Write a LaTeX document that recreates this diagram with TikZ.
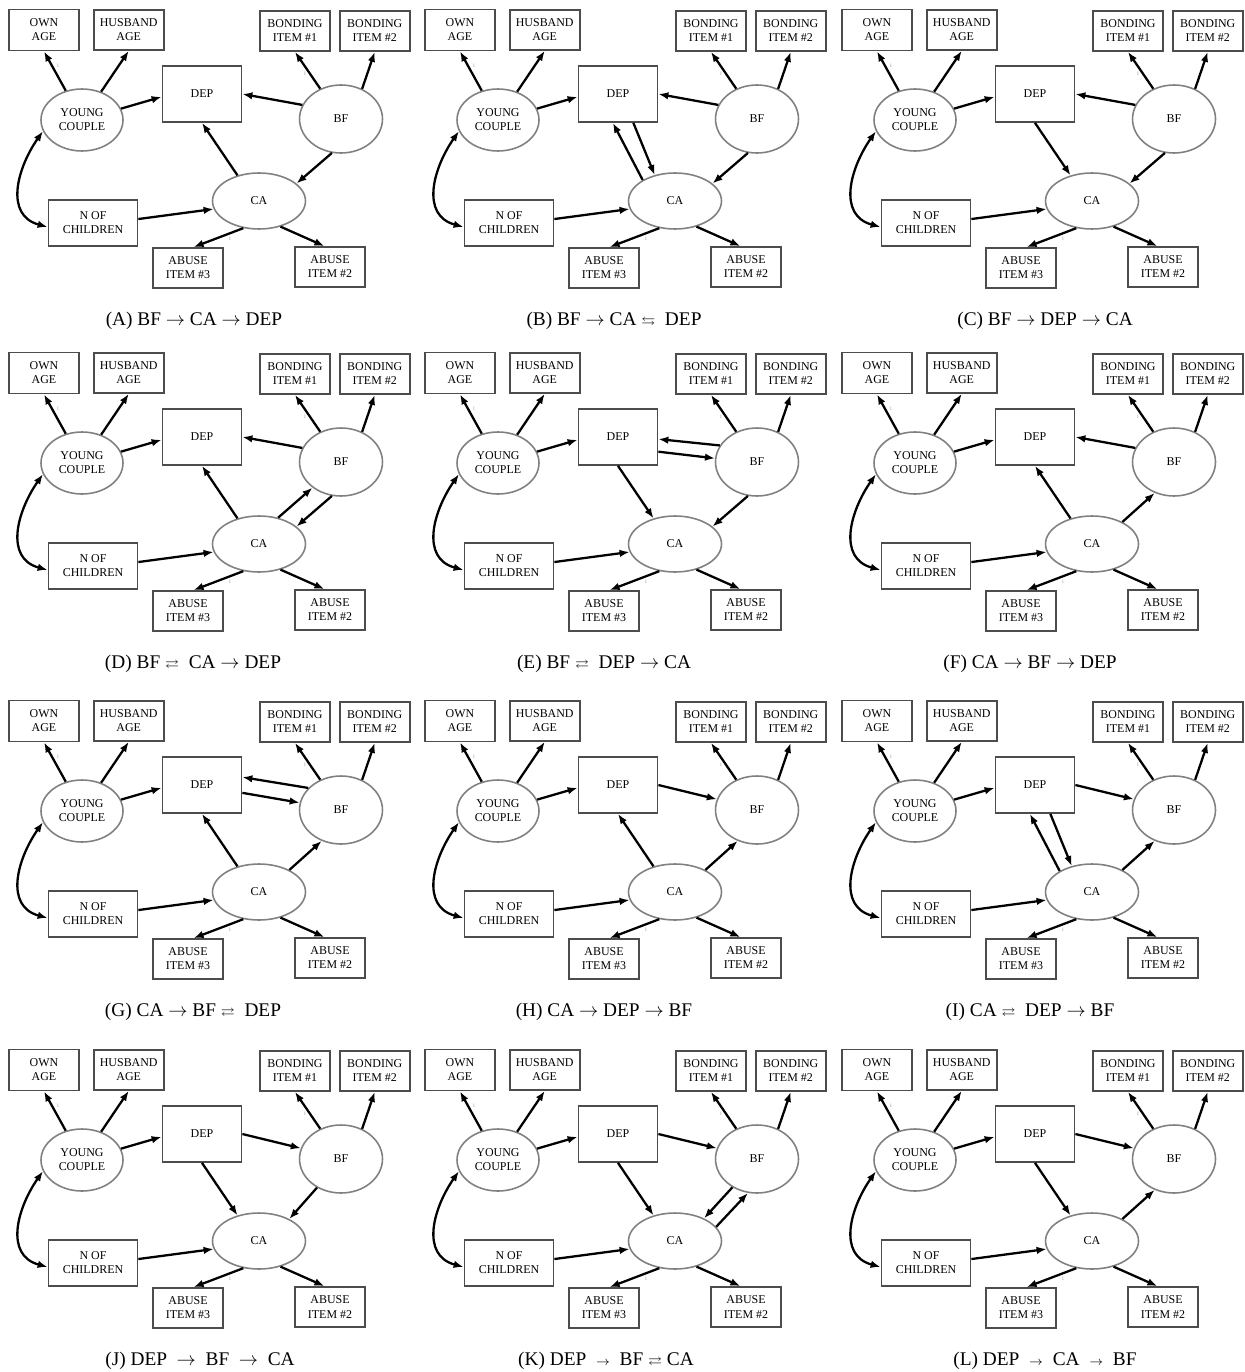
\documentclass[tikz,border=0pt]{standalone}
\usepackage{amssymb}
\usepackage{fontspec}
\setmainfont{Liberation Serif}
\usetikzlibrary{shapes.geometric, arrows.meta, positioning, calc}

\begin{document}
\begin{tikzpicture}[
    x=0.02cm, y=-0.02cm,
    box/.style={rectangle, draw=black!70, line width=1pt, minimum width=1.4cm, minimum height=0.8cm, inner sep=0pt, align=center, font=\fontsize{6.8}{8}\selectfont},
    latent/.style={ellipse, draw=black!50, line width=0.9pt, inner sep=0pt, align=center, font=\fontsize{6.8}{8}\selectfont},
    arrow/.style={-{Latex[length=2mm, width=1.5mm]}, line width=1.3pt},
    biarrow/.style={{Latex[length=2mm, width=1.5mm]}-{Latex[length=2mm, width=1.5mm]}, line width=1.3pt},
    fixlabel/.style={font=\fontsize{3}{3}\selectfont, text=black!40, inner sep=0pt},
    caption/.style={font=\fontsize{11}{13}\selectfont, inner sep=0pt}
]
    \useasboundingbox (0,0) rectangle (1244,1372);

    \foreach \p/\ox/\oy/\cx/\ptitle in {
        A/0/0/194/{(A) BF $\rightarrow$ CA $\rightarrow$ DEP},
        B/416/0/198/{(B) BF $\rightarrow$ CA {\scriptsize$\leftrightarrows$}\ \ DEP},
        C/833/0/212/{(C) BF $\rightarrow$ DEP $\rightarrow$ CA},
        D/0/343/193/{(D) BF\ {\scriptsize$\rightleftarrows$}\ \ CA $\rightarrow$ DEP},
        E/416/343/188/{(E) BF\ {\scriptsize$\rightleftarrows$}\ \ DEP $\rightarrow$ CA},
        F/833/343/197/{(F) CA $\rightarrow$ BF $\rightarrow$ DEP},
        G/0/691/193/{(G) CA $\rightarrow$ BF\ {\scriptsize$\rightleftarrows$}\ \ DEP},
        H/416/691/188/{(H) CA $\rightarrow$ DEP $\rightarrow$ BF},
        I/833/691/197/{(I) CA\ {\scriptsize$\rightleftarrows$}\ \ DEP $\rightarrow$ BF},
        J/0/1040/200/{(J) DEP\ \ $\rightarrow$\ \ BF\ \ $\rightarrow$\ \ CA},
        K/416/1040/190/{(K) DEP\ \ {\scriptsize$\rightarrow$}\ \ BF\ {\scriptsize$\rightleftarrows$}\ CA},
        L/833/1040/212/{(L) DEP\ \ {\scriptsize$\rightarrow$}\ \ CA\ \ {\scriptsize$\rightarrow$}\ \ BF}
    }{
        \begin{scope}[shift={(\ox,\oy)}]
            \node[box, minimum height=0.82cm] (\p-own) at (44,30) {OWN\\AGE};
            \node[box, right=0.26cm of \p-own] (\p-hus) {HUSBAND\\AGE};
            \node[box] (\p-bond1) at (295,31) {BONDING\\ITEM \#1};
            \node[box, right=0.16cm of \p-bond1] (\p-bond2) {BONDING\\ITEM \#2};
            \node[box, minimum width=1.58cm, minimum height=1.12cm] (\p-dep) at (202,94) {DEP};
            \node[latent, minimum width=1.64cm, minimum height=1.24cm] (\p-yc) at (82,120) {YOUNG\\COUPLE};
            \node[latent, minimum width=1.66cm, minimum height=1.36cm] (\p-bf) at (341,119) {BF};
            \node[latent, minimum width=1.86cm, minimum height=1.12cm] (\p-ca) at (259,201) {CA};
            \node[box, minimum width=1.78cm, minimum height=0.92cm] (\p-nc) at (93,223) {N OF\\CHILDREN};
            \node[box] (\p-ab3) at (188,268) {ABUSE\\ITEM \#3};
            \node[box] (\p-ab2) at (330,267) {ABUSE\\ITEM \#2};
            \node[fixlabel] (\p-fix1) at (58,66) {1};
            \node[fixlabel] (\p-fix2) at (305,74) {1};
            \node[fixlabel] (\p-fix3) at (230,239) {1};
            \node[caption] (\p-title) at (\cx,321) {\ptitle};

            \draw[arrow] (\p-yc) -- (\p-own.south);
            \draw[arrow] (\p-yc) -- (\p-hus.south);
            \draw[arrow] (\p-bf) -- (\p-bond1.south);
            \draw[arrow] (\p-bf.55) -- (\p-bond2.south);
            \draw[arrow] (\p-yc) -- (\p-dep.184);
            \draw[arrow] (\p-nc.5) -- (\p-ca.190);
            \draw[arrow] (\p-ca.-120) -- (\p-ab3.75);
            \draw[arrow] (\p-ca.-50) -- (\p-ab2.105);
            \draw[biarrow] (\p-yc.196) to[out=235, in=165, looseness=1.2] (\p-nc.185);
        \end{scope}
    }

    \draw[arrow] (A-bf.160) -- (A-dep.east);
    \draw[arrow] (A-bf.-105) -- (A-ca.25);
    \draw[arrow] (A-ca.130) -- (A-dep.south);

    \draw[arrow] (B-bf.160) -- (B-dep.east);
    \draw[arrow] (B-bf.-105) -- (B-ca.25);
    \draw[arrow] (B-ca.147) -- (B-dep.-100);
    \draw[arrow] (B-dep.-62) -- (B-ca.128);

    \draw[arrow] (C-bf.160) -- (C-dep.east);
    \draw[arrow] (C-bf.-105) -- (C-ca.25);
    \draw[arrow] (C-dep.south) -- (C-ca.130);

    \draw[arrow] (D-bf.160) -- (D-dep.east);
    \draw[arrow] (D-ca.130) -- (D-dep.south);
    \draw[arrow] (D-ca.54) -- (D-bf.-138);
    \draw[arrow] (D-bf.-105) -- (D-ca.25);

    \draw[arrow] (E-bf.156) -- (E-dep.-3);
    \draw[arrow] (E-dep.-20) -- (E-bf.175);
    \draw[arrow] (E-bf.-105) -- (E-ca.25);
    \draw[arrow] (E-dep.south) -- (E-ca.130);

    \draw[arrow] (F-bf.160) -- (F-dep.east);
    \draw[arrow] (F-ca.130) -- (F-dep.south);
    \draw[arrow] (F-ca.36) -- (F-bf.-122);

    \draw[arrow] (G-bf.146) -- (G-dep.11);
    \draw[arrow] (G-dep.-11) -- (G-bf.170);
    \draw[arrow] (G-ca.130) -- (G-dep.south);
    \draw[arrow] (G-ca.36) -- (G-bf.-122);

    \draw[arrow] (H-dep.east) -- (H-bf.165);
    \draw[arrow] (H-ca.130) -- (H-dep.south);
    \draw[arrow] (H-ca.36) -- (H-bf.-122);

    \draw[arrow] (I-dep.east) -- (I-bf.165);
    \draw[arrow] (I-ca.147) -- (I-dep.-100);
    \draw[arrow] (I-dep.-62) -- (I-ca.128);
    \draw[arrow] (I-ca.36) -- (I-bf.-122);

    \draw[arrow] (J-dep.east) -- (J-bf.165);
    \draw[arrow] (J-dep.south) -- (J-ca.130);
    \draw[arrow] (J-bf.-130) -- (J-ca.36);

    \draw[arrow] (K-dep.east) -- (K-bf.165);
    \draw[arrow] (K-dep.south) -- (K-ca.130);
    \draw[arrow] (K-bf.-131) -- (K-ca.38);
    \draw[arrow] (K-ca.19) -- (K-bf.-105);

    \draw[arrow] (L-dep.east) -- (L-bf.165);
    \draw[arrow] (L-dep.south) -- (L-ca.130);
    \draw[arrow] (L-ca.36) -- (L-bf.-122);
\end{tikzpicture}
\end{document}
